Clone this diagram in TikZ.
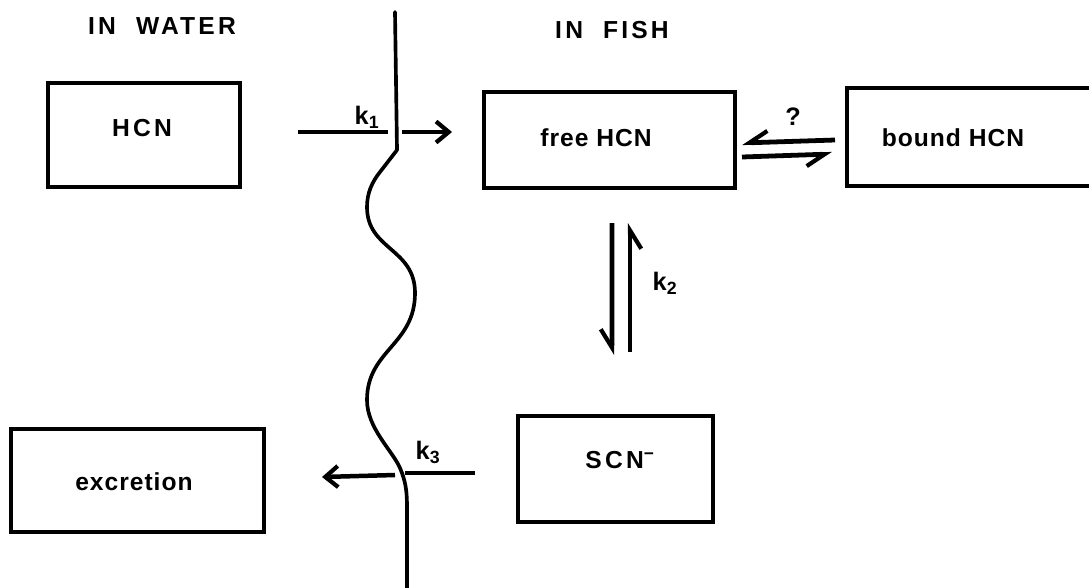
\documentclass[tikz,border=0pt]{standalone}
\usepackage{fontspec}
\setmainfont{Liberation Sans}
\newfontfamily\labfont[LetterSpace=4]{Liberation Sans}
\newfontfamily\capsfont[LetterSpace=13]{Liberation Sans}
\usetikzlibrary{arrows.meta,calc}
\tikzset{
  box/.style={draw, line width=3.2pt, inner sep=0pt, outer sep=0pt},
  lab/.style={font=\labfont\bfseries\fontsize{17.5}{20}\selectfont, inner sep=0pt},
  capslab/.style={font=\capsfont\bfseries\fontsize{17.5}{20}\selectfont, inner sep=0pt},
  klab/.style={font=\bfseries\fontsize{18}{20}\selectfont, inner sep=0pt},
  flow/.style={line width=3.2pt, -{Straight Barb[length=9pt,width=15pt,line width=3pt]}},
  plain/.style={line width=3.2pt},
  harp/.style={line width=3.4pt, -{Straight Barb[right,length=13pt,width=16pt,line width=3pt]}},
  membrane/.style={line width=2.6pt, line join=round, line cap=round}
}
\begin{document}
\begin{tikzpicture}[x=0.025cm, y=-0.025cm]
\useasboundingbox (0,0) rectangle (1089,587);

% compartment headings
\node[capslab] (water) at (162,26) {IN\ \ WATER};
\node[capslab] (fish)  at (612,30) {IN\ \ FISH};

% compartments
\node[box, minimum width=192*0.025cm, minimum height=104*0.025cm] (hcn)   at (144,135)   {};
\node[box, minimum width=251*0.025cm, minimum height=96*0.025cm]  (free)  at (609.5,140) {};
\node[box, minimum width=260*0.025cm, minimum height=98*0.025cm]  (bound) at (977,137)   {};
\node[box, minimum width=195*0.025cm, minimum height=106*0.025cm] (scn)   at (615.5,469) {};
\node[box, minimum width=253*0.025cm, minimum height=103*0.025cm] (exc)   at (137.5,480.5) {};

\node[capslab] (thcn)   at (142,128) {HCN};
\node[lab]     (tfree)  at (596,138) {free HCN};
\node[lab]     (tbound) at (953,138) {bound HCN};
\node[capslab] (tscn)   at (620,460) {SCN\textsuperscript{−}};
\node[lab]     (texc)   at (134,482) {excretion};

% membrane between water and fish
\draw[membrane] (395,12) -- (397,150) -- (380,172)
  .. controls (372,182) and (367,193) .. (367,207)
  .. controls (367,250) and (415,248) .. (415,293)
  .. controls (415,345) and (367,350) .. (367,400)
  .. controls (367,428) and (392,450) .. (400,468)
  .. controls (406,482) and (407,492) .. (407,508)
  -- (407,592);

% uptake across the gills
\coordinate (k1a) at (298,132);
\coordinate (k1b) at (388,132);
\coordinate (k1c) at (402,132);
\coordinate (k1d) at (452,132);
\draw[plain] (k1a) -- (k1b);
\draw[flow] (k1c) -- (k1d);
\node[klab] (k1) at (367,117) {k\textsubscript{1}};

% binding equilibrium
\draw[harp] ($(bound.west)+(-12,3)$) -- ($(free.east)+(7,3)$);
\draw[harp] ($(free.east)+(7,17)$) -- ($(bound.west)+(-15,17)$);
\node[klab] (q) at (793,117) {?};

% conversion to thiocyanate
\draw[harp] ($(free.south)+(2.5,35)$) -- ($(scn.north)+(-3.5,-61)$);
\draw[harp] ($(scn.north)+(14.5,-64)$) -- ($(free.south)+(20.5,35)$);
\node[klab] (k2) at (665,283) {k\textsubscript{2}};

% excretion of thiocyanate
\coordinate (k3a) at (475,473);
\coordinate (k3b) at (405,473);
\coordinate (k3c) at (395,475);
\coordinate (k3d) at (322,477);
\draw[plain] (k3a) -- (k3b);
\draw[flow] (k3c) -- (k3d);
\node[klab] (k3) at (428,452) {k\textsubscript{3}};
\end{tikzpicture}
\end{document}
